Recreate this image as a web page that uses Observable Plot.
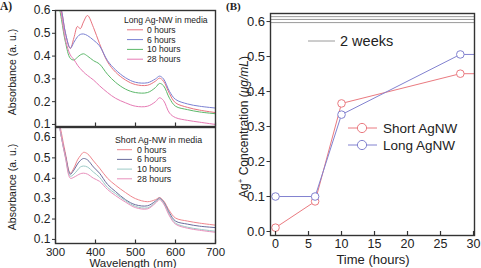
<!DOCTYPE html>
<html>
<head>
<meta charset="utf-8">
<script src="https://cdn.jsdelivr.net/npm/d3@7"></script>
<script src="https://cdn.jsdelivr.net/npm/@observablehq/plot@0.6"></script>
<style>
  body { margin: 0; background: #fff; }
  #chart { position: relative; width: 481px; height: 268px; overflow: hidden; font-family: "Liberation Sans", Arial, sans-serif; }
  #chart svg { position: absolute; overflow: visible; }
</style>
</head>
<body>
<div id="chart"></div>
<script>
// ---- Panel A: UV-vis absorbance spectra ----
const wavelengthGrid = [305, 315, 325, 337, 346, 355, 362, 370, 380, 395, 410, 430, 450, 475, 500, 530, 550, 560, 570, 585, 600, 630, 660, 700];
const timeLabels = ["0 hours", "6 hours", "10 hours", "28 hours"];

// Long Ag-NW in media
const long0h  = [0.66, 0.60, 0.50, 0.433, 0.48, 0.53, 0.52, 0.55, 0.578, 0.525, 0.455, 0.375, 0.33, 0.295, 0.275, 0.272, 0.29, 0.303, 0.29, 0.235, 0.195, 0.175, 0.163, 0.152];
const long6h  = [0.66, 0.60, 0.50, 0.435, 0.46, 0.485, 0.495, 0.497, 0.49, 0.47, 0.445, 0.38, 0.34, 0.305, 0.285, 0.283, 0.30, 0.312, 0.30, 0.245, 0.21, 0.19, 0.18, 0.172];
const long10h = [0.66, 0.56, 0.46, 0.39, 0.383, 0.395, 0.405, 0.41, 0.40, 0.38, 0.365, 0.32, 0.285, 0.255, 0.24, 0.24, 0.262, 0.28, 0.27, 0.215, 0.18, 0.165, 0.155, 0.147];
const long28h = [0.68, 0.58, 0.47, 0.405, 0.385, 0.36, 0.345, 0.33, 0.315, 0.295, 0.27, 0.24, 0.215, 0.195, 0.18, 0.18, 0.20, 0.217, 0.205, 0.15, 0.13, 0.118, 0.11, 0.10];

// Short Ag-NW in media
const short0h  = [0.72, 0.62, 0.52, 0.425, 0.45, 0.49, 0.51, 0.527, 0.52, 0.485, 0.45, 0.40, 0.366, 0.33, 0.30, 0.285, 0.295, 0.305, 0.29, 0.24, 0.205, 0.19, 0.18, 0.17];
const short6h  = [0.72, 0.60, 0.51, 0.42, 0.44, 0.47, 0.487, 0.497, 0.49, 0.455, 0.425, 0.37, 0.335, 0.295, 0.27, 0.265, 0.288, 0.303, 0.285, 0.23, 0.19, 0.175, 0.165, 0.158];
const short10h = [0.72, 0.60, 0.50, 0.41, 0.42, 0.44, 0.455, 0.46, 0.455, 0.43, 0.405, 0.355, 0.325, 0.29, 0.262, 0.255, 0.282, 0.298, 0.28, 0.222, 0.18, 0.16, 0.15, 0.14];
const short28h = [0.72, 0.60, 0.50, 0.40, 0.405, 0.415, 0.422, 0.425, 0.42, 0.40, 0.385, 0.345, 0.315, 0.283, 0.256, 0.25, 0.278, 0.295, 0.275, 0.215, 0.175, 0.155, 0.145, 0.135];

const longColors  = ["#e8727e", "#7a80d2", "#5cb86a", "#e67ab4"];
const shortColors = ["#f0868e", "#6a6c9c", "#9ccac6", "#e890bc"];

const absorbanceTicks = [0.1, 0.2, 0.3, 0.4, 0.5, 0.6];
const wavelengthTicks = [300, 400, 500, 600, 700];

// ---- Panel B: released Ag+ concentration ----
const hours = [0, 6, 10, 28];
const shortAgNW = [0.011, 0.086, 0.366, 0.451];
const longAgNW  = [0.100, 0.100, 0.334, 0.506];
const twoWeekLevels = [0.597, 0.606, 0.614];
const hourTicks = [0, 5, 10, 15, 20, 25, 30];
const concTicks = [0, 0.1, 0.2, 0.3, 0.4, 0.5, 0.6];
const seriesNames = ["Short AgNW", "Long AgNW"];
const seriesColors = ["#ea7a80", "#8282d0"];

const chart = document.getElementById("chart");
const frameColor = "#333";
const inkColor = "#222";

function spectrumPanel(series, colors, {top, height, marginTop, marginBottom, yDomain, showXLabels}) {
  const rows = series.flatMap((vals, k) =>
    wavelengthGrid.map((w, i) => ({w, a: vals[i], key: timeLabels[k]})));
  const innerH = height - marginTop - marginBottom;
  const svg = Plot.plot({
    width: 230, height,
    marginLeft: 55, marginRight: 15, marginTop, marginBottom,
    style: {background: "none", color: inkColor, fontFamily: "Liberation Sans, Arial, sans-serif"},
    x: {domain: [300, 700], axis: null},
    y: {domain: yDomain, axis: null},
    color: {domain: timeLabels, range: colors},
    marks: [
      Plot.line(rows, {x: "w", y: "a", z: "key", stroke: "key", curve: "catmull-rom", strokeWidth: 1, clip: true}),
      Plot.axisY({ticks: absorbanceTicks, tickSize: 3, tickPadding: 2, tickFormat: d3.format(".1f"), label: null, fontSize: 12, stroke: frameColor}),
      Plot.tickX(wavelengthTicks, {x: d => d, insetTop: innerH - 3.5, stroke: frameColor, strokeWidth: 1.2}),
      showXLabels ? Plot.axisX({ticks: wavelengthTicks, tickSize: 0, tickPadding: 4, label: null, fontSize: 11.5}) : null,
      Plot.frame({stroke: frameColor, strokeWidth: 1.4})
    ]
  });
  svg.style.left = "0px";
  svg.style.top = top + "px";
  chart.appendChild(svg);
}

spectrumPanel([long0h, long6h, long10h, long28h], longColors,
  {top: 0, height: 130, marginTop: 10, marginBottom: 4, yDomain: [0.091, 0.6], showXLabels: false});
spectrumPanel([short0h, short6h, short10h, short28h], shortColors,
  {top: 120, height: 148, marginTop: 7, marginBottom: 25, yDomain: [0.08, 0.649], showXLabels: true});

// Panel B
{
  const rows = seriesNames.flatMap((name, k) =>
    hours.map((t, i) => ({t, c: (k === 0 ? shortAgNW : longAgNW)[i], series: name})));
  const lastRows = seriesNames.map((name, k) => ({series: name, c: (k === 0 ? shortAgNW : longAgNW)[hours.length - 1]}));
  const xDomain = [-0.76, 30.15];
  const height = 268, marginTop = 13, marginBottom = 33;
  const innerH = height - marginTop - marginBottom;
  const svg = Plot.plot({
    width: 241, height,
    marginLeft: 30, marginRight: 7, marginTop, marginBottom,
    style: {background: "none", color: inkColor, fontFamily: "Liberation Sans, Arial, sans-serif"},
    x: {domain: xDomain, axis: null},
    y: {domain: [-0.0114, 0.623], axis: null},
    color: {domain: seriesNames, range: seriesColors},
    marks: [
      Plot.ruleY(twoWeekLevels, {y: d => d, stroke: "#9a9a9a", strokeWidth: 1}),
      // level after the last sample continues to the right edge
      Plot.ruleY(lastRows, {y: "c", x1: hours[hours.length - 1], x2: xDomain[1], stroke: "series", strokeWidth: 1}),
      Plot.line(rows, {x: "t", y: "c", z: "series", stroke: "series", strokeWidth: 1}),
      Plot.dot(rows, {x: "t", y: "c", stroke: "series", fill: "white", r: 3.8, strokeWidth: 1}),
      Plot.axisY({ticks: concTicks, tickSize: 3.5, tickPadding: 2, tickFormat: d3.format(".1f"), label: null, fontSize: 13, stroke: frameColor}),
      Plot.tickX(hourTicks, {x: d => d, insetTop: innerH - 4, stroke: frameColor, strokeWidth: 1.2}),
      Plot.axisX({ticks: hourTicks, tickSize: 0, tickPadding: 4, label: null, fontSize: 12.5}),
      Plot.frame({stroke: frameColor, strokeWidth: 1.4})
    ]
  });
  svg.style.left = "240px";
  svg.style.top = "0px";
  chart.appendChild(svg);
}

// Labels and legends
const ov = d3.select(chart).append("svg")
  .attr("width", 481).attr("height", 268)
  .style("left", "0px").style("top", "0px")
  .style("font-family", "Liberation Sans, Arial, sans-serif")
  .attr("fill", inkColor);

ov.append("text").text("A)").attr("x", 0).attr("y", 10)
  .style("font-family", "Liberation Serif, Times New Roman, serif").style("font-weight", "bold").style("font-size", "11.5px");
ov.append("text").text("(B)").attr("x", 226).attr("y", 10)
  .style("font-family", "Liberation Serif, Times New Roman, serif").style("font-weight", "bold").style("font-size", "11px");

function rotLabel(text, x, y, size) {
  return ov.append("text").attr("transform", `translate(${x},${y}) rotate(-90)`)
    .attr("text-anchor", "middle").attr("dominant-baseline", "central")
    .style("font-size", size + "px").text(text);
}
rotLabel("Absorbance (a. u.)", 12, 72, 10.5);
rotLabel("Absorbance (a. u.)", 12, 187, 10.5);

ov.append("text").text("Wavelength (nm)").attr("x", 133).attr("y", 263)
  .attr("text-anchor", "middle").attr("dominant-baseline", "central").style("font-size", "11.5px");

const yb = ov.append("text").attr("transform", "translate(244,127) rotate(-90)")
  .attr("text-anchor", "middle").attr("dominant-baseline", "central").style("font-size", "12px");
yb.append("tspan").text("Ag");
yb.append("tspan").text("+").attr("dy", -4.5).style("font-size", "8px");
yb.append("tspan").text(" Concentration (").attr("dy", 4.5);
yb.append("tspan").text("μg/mL").style("font-style", "italic");
yb.append("tspan").text(")");

ov.append("text").text("Time (hours)").attr("x", 373).attr("y", 259.5)
  .attr("text-anchor", "middle").attr("dominant-baseline", "central").style("font-size", "13px");

function spectrumLegend(title, colors, {x, y, lineX1, lineX2, textX, size, step}) {
  ov.append("text").text(title).attr("x", x).attr("y", y)
    .attr("dominant-baseline", "central").style("font-size", size + "px");
  timeLabels.forEach((lab, i) => {
    const yy = y + step * (i + 1);
    ov.append("line").attr("x1", lineX1).attr("x2", lineX2).attr("y1", yy).attr("y2", yy)
      .attr("stroke", colors[i]).attr("stroke-width", 1);
    ov.append("text").text(lab).attr("x", textX).attr("y", yy)
      .attr("dominant-baseline", "central").style("font-size", size + "px");
  });
}
spectrumLegend("Long Ag-NW in media", longColors, {x: 124, y: 20, lineX1: 127, lineX2: 143, textX: 147, size: 8.6, step: 9.8});
spectrumLegend("Short Ag-NW in media", shortColors, {x: 115, y: 140, lineX1: 117, lineX2: 132, textX: 137, size: 8.8, step: 9.7});

// Panel B legends
ov.append("line").attr("x1", 308).attr("x2", 335).attr("y1", 41).attr("y2", 41)
  .attr("stroke", "#9a9a9a").attr("stroke-width", 1);
ov.append("text").text("2 weeks").attr("x", 340).attr("y", 41)
  .attr("dominant-baseline", "central").style("font-size", "14.5px");

seriesNames.forEach((name, i) => {
  const yy = 128 + i * 17;
  ov.append("line").attr("x1", 348).attr("x2", 377).attr("y1", yy).attr("y2", yy)
    .attr("stroke", seriesColors[i]).attr("stroke-width", 1);
  ov.append("circle").attr("cx", 362).attr("cy", yy).attr("r", 4.6)
    .attr("fill", "white").attr("stroke", seriesColors[i]).attr("stroke-width", 1);
  ov.append("text").text(name).attr("x", 383).attr("y", yy)
    .attr("dominant-baseline", "central").style("font-size", "13.5px");
});
</script>
</body>
</html>
